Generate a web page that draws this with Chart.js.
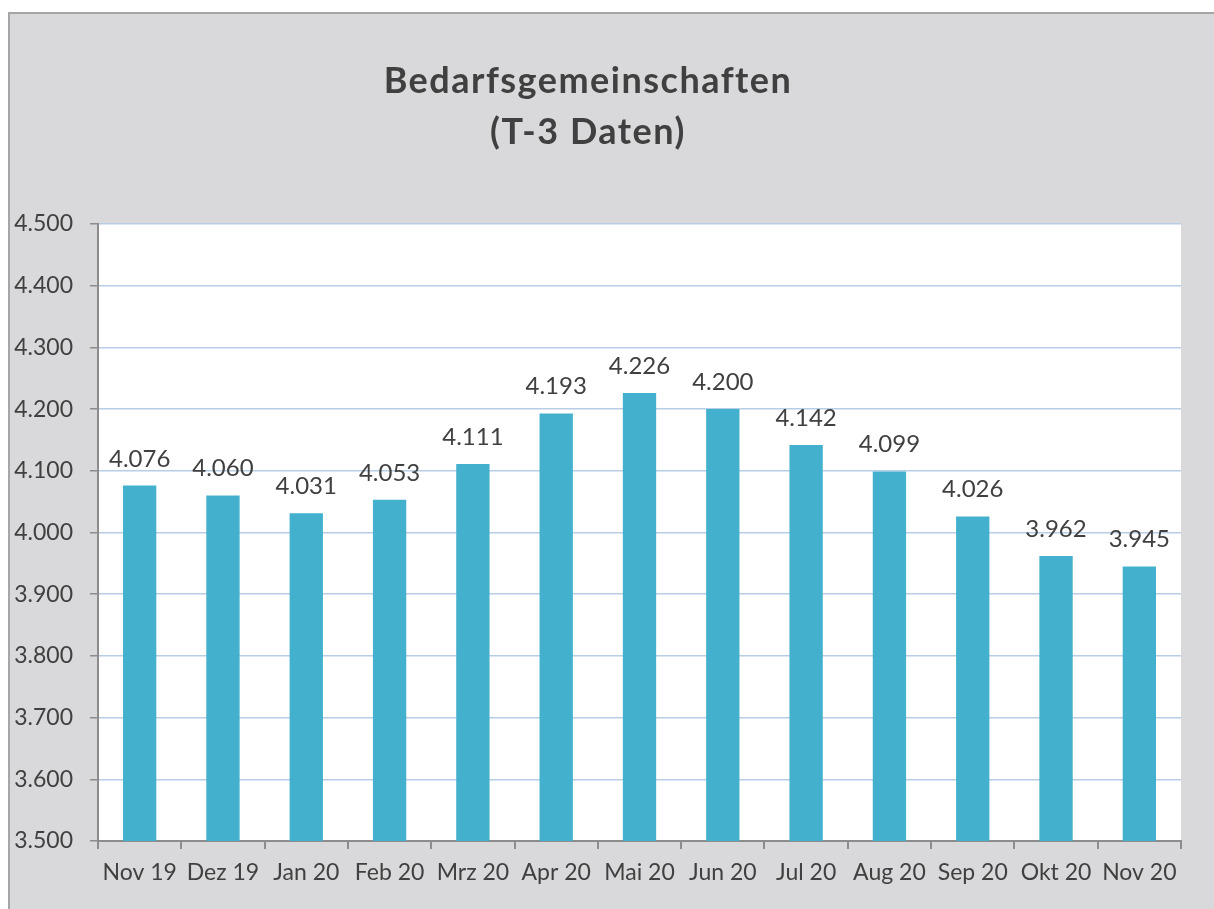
<!DOCTYPE html>
<html>
<head>
<meta charset="utf-8">
<script src="https://cdn.jsdelivr.net/npm/chart.js@4.4.0/dist/chart.umd.min.js"></script>
<style>
  html,body{margin:0;padding:0;background:#fff;}
  #frame{position:absolute;left:8px;top:12px;width:1206px;height:897px;background:#d9d9db;border-left:2px solid #a6a6a6;border-top:2px solid #a6a6a6;box-sizing:border-box;}
  #wrap{position:absolute;left:0;top:0;width:1214px;height:909px;}
</style>
</head>
<body>
<div id="frame"></div>
<div id="wrap"><canvas id="c" width="1214" height="909"></canvas></div>
<script>
// ===== 데이터 =====
const months = ['Nov 19','Dez 19','Jan 20','Feb 20','Mrz 20','Apr 20','Mai 20','Jun 20','Jul 20','Aug 20','Sep 20','Okt 20','Nov 20'];
const bgCounts = [4076,4060,4031,4053,4111,4193,4226,4200,4142,4099,4026,3962,3945];
const titleLines = ['Bedarfsgemeinschaften','(T-3 Daten)'];
const yMin = 3500, yMax = 4500, yStep = 100;

const FONT = 'Lato, "Open Sans", sans-serif', TXT = '#404040';
const fmt = n => Number(n).toLocaleString('de-DE');

// 흰색 플롯 영역 + 제목 + 값 라벨
const deco = {
  id:'deco',
  beforeDraw(ch){ const a=ch.chartArea, ctx=ch.ctx; ctx.save(); ctx.fillStyle='#fff'; ctx.fillRect(a.left,a.top,a.right-a.left,a.bottom-a.top); ctx.restore(); },
  afterDraw(ch){ const ctx=ch.ctx; ctx.save(); ctx.fillStyle=TXT; ctx.textAlign='center'; ctx.textBaseline='alphabetic';
    ctx.font='bold 36px '+FONT; ctx.letterSpacing='1.5px';
    ctx.fillText(titleLines[0],588,93); ctx.fillText(titleLines[1],588,144);
    ctx.letterSpacing='0px'; ctx.font='24px '+FONT;
    ch.getDatasetMeta(0).data.forEach((b,i)=>ctx.fillText(fmt(bgCounts[i]),b.x,b.y-19));
    ctx.restore(); }
};

new Chart(document.getElementById('c'),{
  type:'bar',
  data:{labels:months,datasets:[{data:bgCounts,backgroundColor:'#43b1cd',borderWidth:0,categoryPercentage:1,barPercentage:0.4}]},
  options:{responsive:false,animation:false,
    layout:{padding:{top:224,right:33,left:0,bottom:0}},
    plugins:{legend:{display:false},title:{display:false},tooltip:{enabled:false}},
    scales:{
      x:{grid:{offset:true,drawOnChartArea:false,tickColor:'#8c8c8c',tickLength:8,lineWidth:2},
         border:{color:'#8c8c8c',width:2},
         ticks:{color:TXT,font:{family:FONT,size:23},padding:10,maxRotation:0,autoSkip:false},
         afterFit:s=>{s.height=68;}},
      y:{min:yMin,max:yMax,grid:{color:'#b8cde6',lineWidth:1.5,tickColor:'#8c8c8c',tickLength:8},
         border:{color:'#8c8c8c',width:2},
         ticks:{stepSize:yStep,color:TXT,font:{family:FONT,size:23},padding:17,callback:v=>fmt(v)},
         afterFit:s=>{s.width=98;}}
    }},
  plugins:[deco]
});
</script>
</body>
</html>
